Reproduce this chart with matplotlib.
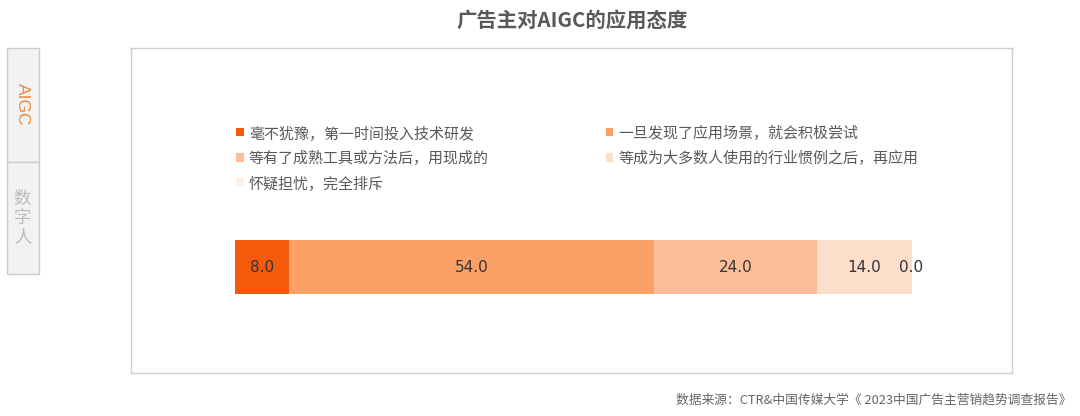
import matplotlib
matplotlib.use("Agg")
import matplotlib.pyplot as plt
from matplotlib.patches import Rectangle

plt.rcParams['font.family'] = ['Noto Sans CJK SC', 'DejaVu Sans']

# data
categories = ["毫不犹豫，第一时间投入技术研发", "一旦发现了应用场景，就会积极尝试",
              "等有了成熟工具或方法后，用现成的", "等成为大多数人使用的行业惯例之后，再应用",
              "怀疑担忧，完全排斥"]
values = [8.0, 54.0, 24.0, 14.0, 0.0]
colors = ["#F45A0C", "#FBA066", "#FBBE98", "#FDDECB", "#FDEEE6"]
title = "广告主对AIGC的应用态度"
source = "数据来源：CTR&中国传媒大学《 2023中国广告主营销趋势调查报告》"
tabs = ["AIGC", "数字人"]

W, H = 1080, 416
fig = plt.figure(figsize=(W / 100, H / 100), dpi=100)


def fx(px):
    return px / W


def fy(py):
    return 1 - py / H


# main panel
ax = fig.add_axes([fx(131), fy(373), fx(1012 - 131), (373 - 48) / H])
for sp in ax.spines.values():
    sp.set_color("#CFCFCF")
    sp.set_linewidth(1.0)
ax.set_xticks([])
ax.set_yticks([])

scale = (911.5 - 234.5) / 100.0
ax.set_xlim(-(234.5 - 131) / scale, 100 + (1012 - 911.5) / scale)
ax.set_ylim(0, 1)
yc = (373 - 267) / 325
bh = 54 / 325

handles = []
left = 0
for cat, v, c in zip(categories, values, colors):
    b = ax.barh(yc, v, left=left, height=bh, color=c, label=cat, linewidth=0)
    handles.append(b)
    ax.text(left + v / 2, yc, "%.1f" % v, ha="center", va="center",
            fontsize=11, color="#333333", family="DejaVu Sans")
    left += v

order = [0, 2, 4, 1, 3]
leg = fig.legend([handles[i] for i in order], [categories[i] for i in order],
                 ncol=2, loc="upper left", bbox_to_anchor=(fx(236), fy(125.5)),
                 bbox_transform=fig.transFigure, frameon=False, fontsize=10.8,
                 handlelength=0.5, handleheight=0.5, handletextpad=0.35,
                 columnspacing=7.8, labelspacing=0.68, borderpad=0, borderaxespad=0)
for t in leg.get_texts():
    t.set_color("#595959")

# title and source
fig.text(fx(572), fy(20), title, ha="center", va="center", fontsize=14.7,
         fontweight="bold", color="#595959")
fig.text(fx(1071), fy(400), source, ha="right", va="center", fontsize=9.2,
         color="#666666")

# side tabs
fig.patches.append(Rectangle((fx(6.5), fy(162)), fx(32.5), (162 - 48) / H,
                             transform=fig.transFigure, facecolor="#F2F2F2",
                             edgecolor="#CCCCCC", linewidth=1.0))
fig.patches.append(Rectangle((fx(6.5), fy(274)), fx(32.5), (274 - 162) / H,
                             transform=fig.transFigure, facecolor="#F2F2F2",
                             edgecolor="#CCCCCC", linewidth=1.0))
fig.text(fx(22.5), fy(104), tabs[0], rotation=-90, ha="center", va="center",
         fontsize=12.5, color="#F0883A", family="Liberation Sans")
fig.text(fx(22.5), fy(218), "\n".join(tabs[1]), ha="center", va="center",
         fontsize=12.5, color="#BBBBBB", linespacing=1.05)

fig.savefig("out.png", dpi=100)
